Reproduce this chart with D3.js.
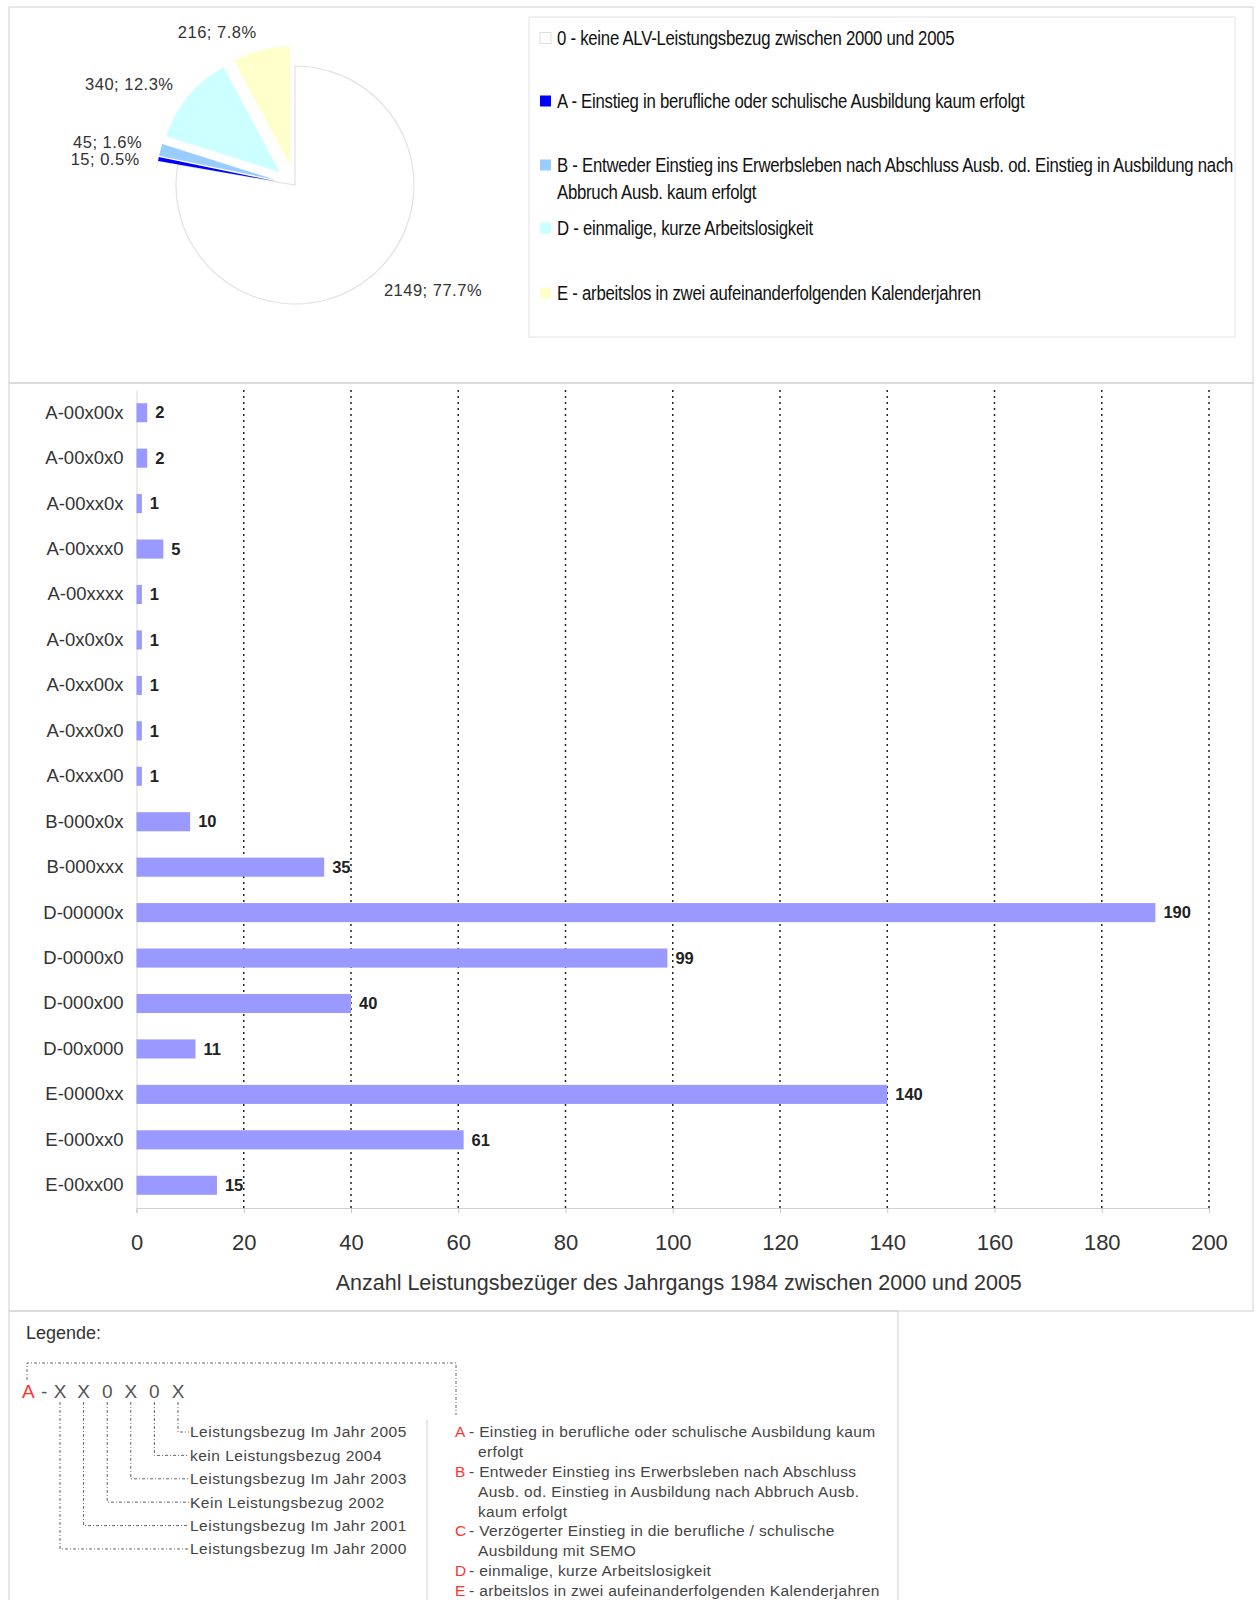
<!DOCTYPE html>
<html>
<head>
<meta charset="utf-8">
<script src="https://cdn.jsdelivr.net/npm/d3@7"></script>
<style>
  body { margin: 0; background: #fff; }
  svg { font-family: "Liberation Sans", Arial, sans-serif; }
</style>
</head>
<body>
<svg id="chart" width="1257" height="1600"></svg>
<script>
// pie data (groups)
const pieGroups = ["0", "A", "B", "D", "E"];
const pieValues = [2149, 15, 45, 340, 216];
const pieColors = ["#ffffff", "#0000ff", "#99ccff", "#ccffff", "#ffffcc"];
const pieLegend = [
  ["0 - keine ALV-Leistungsbezug zwischen 2000 und 2005"],
  ["A - Einstieg in berufliche oder schulische Ausbildung kaum erfolgt"],
  ["B - Entweder Einstieg ins Erwerbsleben nach Abschluss Ausb. od. Einstieg in Ausbildung nach", "Abbruch Ausb. kaum erfolgt"],
  ["D - einmalige, kurze Arbeitslosigkeit"],
  ["E - arbeitslos in zwei aufeinanderfolgenden Kalenderjahren"]
];

// bar data
const categories = ["A-00x00x", "A-00x0x0", "A-00xx0x", "A-00xxx0", "A-00xxxx", "A-0x0x0x",
  "A-0xx00x", "A-0xx0x0", "A-0xxx00", "B-000x0x", "B-000xxx", "D-00000x", "D-0000x0",
  "D-000x00", "D-00x000", "E-0000xx", "E-000xx0", "E-00xx00"];
const values = [2, 2, 1, 5, 1, 1, 1, 1, 1, 10, 35, 190, 99, 40, 11, 140, 61, 15];
const xTicks = [0, 20, 40, 60, 80, 100, 120, 140, 160, 180, 200];
const xTitle = "Anzahl Leistungsbezüger des Jahrgangs 1984 zwischen 2000 und 2005";

// code legend
const codeLetter = "A";
const codeChars = ["X", "X", "0", "X", "0", "X"];
const yearLabels = ["Leistungsbezug Im Jahr 2000", "Leistungsbezug Im Jahr 2001",
  "Kein Leistungsbezug 2002", "Leistungsbezug Im Jahr 2003",
  "kein Leistungsbezug 2004", "Leistungsbezug Im Jahr 2005"];
const groupLetters = ["A", "B", "C", "D", "E"];
const groupTexts = [
  ["- Einstieg in berufliche oder schulische Ausbildung kaum", "erfolgt"],
  ["- Entweder Einstieg ins Erwerbsleben nach Abschluss", "Ausb. od. Einstieg in Ausbildung nach Abbruch Ausb.", "kaum erfolgt"],
  ["- Verzögerter Einstieg in die berufliche / schulische", "Ausbildung mit SEMO"],
  ["- einmalige, kurze Arbeitslosigkeit"],
  ["- arbeitslos in zwei aufeinanderfolgenden Kalenderjahren"]
];

const svg = d3.select("#chart");
const frame = "#cfcfcf";

// panel frames
svg.append("rect").attr("x", 9).attr("y", 7).attr("width", 1244).attr("height", 376)
  .attr("fill", "none").attr("stroke", frame);
svg.append("rect").attr("x", 9).attr("y", 383).attr("width", 1244).attr("height", 928)
  .attr("fill", "none").attr("stroke", frame);
svg.append("rect").attr("x", 9).attr("y", 1311).attr("width", 889).attr("height", 300)
  .attr("fill", "none").attr("stroke", frame);

// ---------- pie ----------
const total = d3.sum(pieValues);
const pieData = d3.pie().sort(null).value(d => d)(pieValues);
const r = 119;
const arc = d3.arc().innerRadius(0).outerRadius(r);
const pieG = svg.append("g").attr("transform", "translate(295,185)");
const explode = 20;

pieData.forEach((d, i) => {
  const mid = (d.startAngle + d.endAngle) / 2;
  const off = i === 0 ? 0 : explode;
  d.cx = Math.sin(mid) * off;
  d.cy = -Math.cos(mid) * off;
  d.mid = mid;
});

pieG.selectAll("path.slice")
  .data(pieData)
  .join("path")
    .attr("class", "slice")
    .attr("transform", d => `translate(${d.cx},${d.cy})`)
    .attr("d", arc)
    .attr("fill", (d, i) => pieColors[i])
    .attr("stroke", (d, i) => i === 0 ? "#e2e2e2" : "none")
    .attr("stroke-width", 1.2);

// label positions, then push apart the ones that collide
const fmtPct = d3.format(".1%");
const labR = r + 19;
pieData.forEach(d => {
  d.lx = d.cx + Math.sin(d.mid) * labR;
  d.ly = d.cy - Math.cos(d.mid) * labR;
});
const leftLabs = pieData.filter(d => Math.sin(d.mid) < 0).sort((a, b) => a.ly - b.ly);
for (let k = 1; k < leftLabs.length; k++) {
  const gap = leftLabs[k].ly - leftLabs[k - 1].ly;
  if (gap < 17) {
    const shift = (17 - gap) / 2;
    leftLabs[k - 1].ly -= shift;
    leftLabs[k].ly += shift;
  }
}

pieG.selectAll("text.plab")
  .data(pieData)
  .join("text")
    .attr("class", "plab")
    .attr("x", d => d.lx)
    .attr("y", d => d.ly)
    .attr("dy", "0.35em")
    .attr("text-anchor", d => Math.sin(d.mid) < 0 ? "end" : "start")
    .attr("font-size", 16.5)
    .attr("letter-spacing", 0.5)
    .attr("fill", "#333")
    .text(d => `${d.value}; ${fmtPct(d.value / total)}`);

// pie legend
svg.append("rect").attr("x", 529).attr("y", 17).attr("width", 706).attr("height", 320)
  .attr("fill", "none").attr("stroke", "#e4e4e4");
const legYs = [38, 101, 165, 228, 293];
const legG = svg.append("g");
pieLegend.forEach((lines, i) => {
  legG.append("rect")
    .attr("x", 540).attr("y", legYs[i] - 5.5).attr("width", 11).attr("height", 11)
    .attr("fill", pieColors[i])
    .attr("stroke", i === 0 ? "#ddd" : "none");
  lines.forEach((t, j) => {
    legG.append("text")
      .attr("transform", `translate(557,${legYs[i] + j * 27}) scale(0.86,1)`)
      .attr("dy", "0.35em")
      .attr("font-size", 19.5)
      .attr("fill", "#111")
      .attr("letter-spacing", -0.3)
      .text(t);
  });
});

// ---------- bars ----------
const margin = { left: 136.5, right: 1209, top: 390, bottom: 1208 };
const x = d3.scaleLinear().domain([0, 200]).range([margin.left, margin.right]);
const y = d3.scaleBand().domain(categories).range([margin.top, margin.bottom])
  .paddingInner(0.58).paddingOuter(0.29);

// gridlines
svg.append("g").selectAll("line")
  .data(xTicks.filter(d => d > 0))
  .join("line")
    .attr("x1", d => x(d)).attr("x2", d => x(d))
    .attr("y1", margin.top).attr("y2", margin.bottom)
    .attr("stroke", "#222").attr("stroke-width", 1.5)
    .attr("stroke-dasharray", "2,4");

// x axis
const xAxisG = svg.append("g")
  .attr("transform", `translate(0,${margin.bottom})`)
  .call(d3.axisBottom(x).tickValues(xTicks).tickSize(5).tickPadding(21));
xAxisG.select(".domain").attr("stroke", "#d0d0d0");
xAxisG.selectAll(".tick line").attr("stroke", "#c8c8c8");
xAxisG.selectAll(".tick text").attr("font-size", 22).attr("fill", "#333")
  .attr("font-family", "Liberation Sans, Arial, sans-serif");

svg.append("text")
  .attr("x", (margin.left + margin.right) / 2 + 6).attr("y", 1282)
  .attr("dy", "0.35em").attr("text-anchor", "middle")
  .attr("font-size", 21.5).attr("fill", "#333")
  .text(xTitle);

// y axis
const yAxisG = svg.append("g")
  .attr("transform", `translate(${margin.left},0)`)
  .call(d3.axisLeft(y).tickSize(0).tickPadding(13));
yAxisG.select(".domain").attr("stroke", "#d8d8d8");
yAxisG.selectAll(".tick text").attr("font-size", 18.5).attr("fill", "#333")
  .attr("font-family", "Liberation Sans, Arial, sans-serif");

// bars
svg.append("g").selectAll("rect")
  .data(values)
  .join("rect")
    .attr("x", x(0))
    .attr("y", (d, i) => y(categories[i]))
    .attr("width", d => x(d) - x(0))
    .attr("height", y.bandwidth())
    .attr("fill", "#9999ff");

svg.append("g").selectAll("text")
  .data(values)
  .join("text")
    .attr("x", d => x(d) + 8)
    .attr("y", (d, i) => y(categories[i]) + y.bandwidth() / 2)
    .attr("dy", "0.35em")
    .attr("font-size", 16.5).attr("font-weight", "bold").attr("fill", "#222")
    .text(d => d);

// ---------- code legend ----------
const lg = svg.append("g");
lg.append("text").attr("x", 26).attr("y", 1333).attr("dy", "0.35em")
  .attr("font-size", 18).attr("fill", "#333").text("Legende:");

const dashStyle = "3,2,1,2";
const codeY = 1391;
const charX0 = 60, charStep = 23.6;
const yearY0 = 1549, yearStep = -23.4;
const labelX = 189;

lg.append("text").attr("x", 22).attr("y", codeY).attr("dy", "0.35em")
  .attr("font-size", 19).attr("fill", "#ff3333").text(codeLetter);
lg.append("text").attr("x", 41).attr("y", codeY).attr("dy", "0.35em")
  .attr("font-size", 19).attr("fill", "#555").text("-");
lg.append("path")
  .attr("d", "M27,1380 V1363 H456 V1415")
  .attr("fill", "none").attr("stroke", "#666").attr("stroke-dasharray", dashStyle);

codeChars.forEach((c, i) => {
  const cx = charX0 + i * charStep;
  const ly = yearY0 + i * yearStep;
  lg.append("text").attr("x", cx).attr("y", codeY).attr("dy", "0.35em")
    .attr("text-anchor", "middle").attr("font-size", 19).attr("fill", "#555").text(c);
  lg.append("path")
    .attr("d", `M${cx},${codeY + 11} V${ly} H${labelX}`)
    .attr("fill", "none").attr("stroke", "#666").attr("stroke-dasharray", dashStyle);
  lg.append("text").attr("x", labelX + 1).attr("y", ly).attr("dy", "0.35em")
    .attr("font-size", 15.5).attr("letter-spacing", 0.5).attr("fill", "#444").text(yearLabels[i]);
});

lg.append("line").attr("x1", 427).attr("x2", 427).attr("y1", 1420).attr("y2", 1600)
  .attr("stroke", "#d0d0d0");

let lineY = 1432;
const lineStep = 19.8;
groupLetters.forEach((L, i) => {
  lg.append("text").attr("x", 455).attr("y", lineY).attr("dy", "0.35em")
    .attr("font-size", 15.5).attr("fill", "#ff3333").text(L);
  groupTexts[i].forEach((t, j) => {
    lg.append("text").attr("x", j === 0 ? 469 : 478).attr("y", lineY).attr("dy", "0.35em")
      .attr("font-size", 15.5).attr("letter-spacing", 0.35).attr("fill", "#444").text(t);
    lineY += lineStep;
  });
});
</script>
</body>
</html>
